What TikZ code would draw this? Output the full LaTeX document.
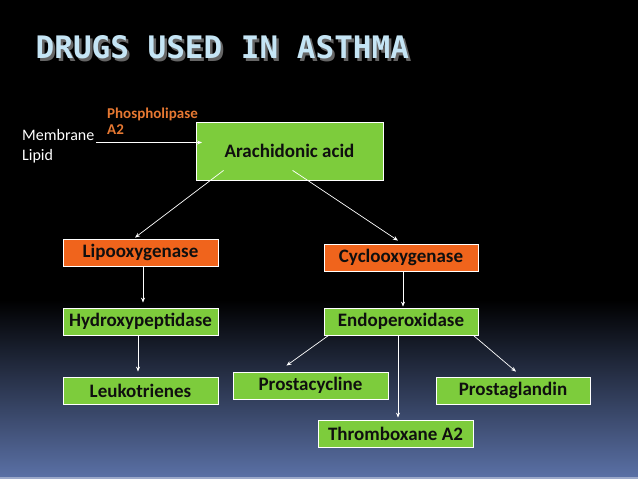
\documentclass[tikz,border=0pt]{standalone}
\usepackage{fontspec}
\setmainfont{Carlito}
\newfontfamily\titlefont{DejaVu Sans Mono}
\usetikzlibrary{arrows.meta,calc}
\definecolor{boxgreen}{RGB}{125,204,60}
\definecolor{boxorange}{RGB}{240,100,28}
\definecolor{bgblue}{RGB}{90,112,165}
\definecolor{titleblue}{RGB}{197,229,245}
\definecolor{enzorange}{RGB}{230,120,50}
\definecolor{boxtext}{RGB}{15,15,15}
\begin{document}
\begin{tikzpicture}[x=1pt,y=-1pt,
  box/.style={draw=white,line width=0.8pt,minimum width=155pt,minimum height=27pt,inner sep=0pt,
    font=\bfseries\fontsize{19}{22}\selectfont,text=boxtext},
  gbox/.style={box,fill=boxgreen},
  obox/.style={box,fill=boxorange},
  conn/.style={draw=white,line width=0.7pt,-{Stealth[length=5pt,width=4pt]}},
  plain/.style={anchor=base west,inner sep=0pt,text=white,font=\fontsize{16}{20}\selectfont},
  enz/.style={anchor=base west,inner sep=0pt,text=enzorange,font=\bfseries\fontsize{15}{16}\selectfont},
  ttl/.style={anchor=base west,inner sep=0pt,font=\titlefont\bfseries\fontsize{31}{36}\selectfont}]
\useasboundingbox (0,0) rectangle (638,479);
\fill[black] (0,0) rectangle (638,479);
\shade[top color=black,bottom color=bgblue] (0,300) rectangle (638,477);
\fill[bgblue!60!white] (0,477) rectangle (638,479);
% title
\node[ttl,text=black!60] (titleshadow) at (38,61) {DRUGS USED IN ASTHMA};
\node[ttl,text=titleblue] (title) at (35.5,58) {DRUGS USED IN ASTHMA};
% texts
\node[plain] (mem) at (22,140) {Membrane};
\node[plain] (lip) at (22,160) {Lipid};
\node[enz] (pla1) at (107,118) {Phospholipase};
\node[enz] (pla2) at (107,134) {A2};
% boxes
\node[gbox,minimum width=187pt,minimum height=58pt] (ara) at (289.5,151) {Arachidonic acid};
\node[obox] (lipo) at (140.5,252.5) {Lipooxygenase};
\node[obox,minimum width=154pt] (cyclo) at (401,257.5) {Cyclooxygenase};
\node[gbox] (hydro) at (140.5,321.5) {Hydroxypeptidase};
\node[gbox,minimum width=154pt] (endo) at (401,321.5) {Endoperoxidase};
\node[gbox] (leuko) at (140.5,390.5) {Leukotrienes};
\node[gbox] (prcy) at (310.5,385.5) {Prostacycline};
\node[gbox,minimum width=154pt] (prgl) at (513,390.5) {Prostaglandin};
\node[gbox] (thromb) at (395.5,433.5) {Thromboxane A2};
% connectors
\coordinate (memstart) at (96,142.5);
\coordinate (memend) at (202,142.5);
\draw[conn] (memstart) -- (memend);
\draw[conn] ([xshift=28pt,yshift=10pt]ara.south west) -- ([xshift=-5.5pt,yshift=1pt]lipo.north);
\draw[conn] ([xshift=97pt,yshift=10pt]ara.south west) -- ([xshift=-3pt,yshift=3pt]cyclo.north);
\draw[conn,shorten >=5pt] ([xshift=2.5pt]lipo.south) -- ([xshift=2.5pt]hydro.north);
\draw[conn,shorten >=5pt] ([xshift=-2.5pt]hydro.south) -- ([xshift=-2.5pt]leuko.north);
\draw[conn,shorten >=1pt] ([xshift=2pt]cyclo.south) -- ([xshift=2pt]endo.north);
\coordinate (tstart) at ([xshift=-3pt]endo.south);
\draw[conn,shorten >=2pt] (tstart) -- (tstart |- thromb.north);
\draw[conn] ([xshift=5pt]endo.south west) -- ([xshift=-24pt,yshift=6pt]prcy.north);
\draw[conn] ([xshift=-5pt]endo.south east) -- ([xshift=3pt,yshift=5pt]prgl.north);
\end{tikzpicture}
\end{document}
